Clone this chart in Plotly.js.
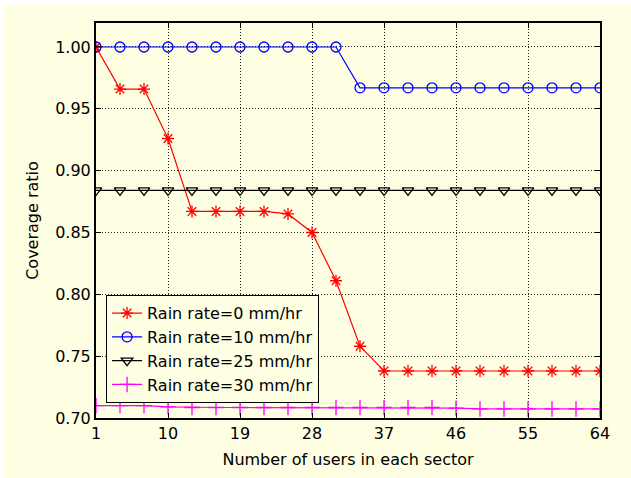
<!DOCTYPE html>
<html><head><meta charset="utf-8">
<script src="https://cdn.plot.ly/plotly-3.0.1.min.js"></script>
<style>html,body{margin:0;padding:0;background:#ffffff;}#chart{position:absolute;left:4px;top:6px;width:627px;height:472px;}</style>
</head><body><div id="chart"></div>
<script>
const users = [1,4,7,10,13,16,19,22,25,28,31,34,37,40,43,46,49,52,55,58,61,64];
const rain0  = [1.000,0.966,0.966,0.926,0.867,0.867,0.867,0.867,0.865,0.850,0.811,0.758,0.738,0.738,0.738,0.738,0.738,0.738,0.738,0.738,0.738,0.738];
const rain10 = [1.000,1.000,1.000,1.000,1.000,1.000,1.000,1.000,1.000,1.000,1.000,0.967,0.967,0.967,0.967,0.967,0.967,0.967,0.967,0.967,0.967,0.967];
const rain25 = [0.884,0.884,0.884,0.884,0.884,0.884,0.884,0.884,0.884,0.884,0.884,0.884,0.884,0.884,0.884,0.884,0.884,0.884,0.884,0.884,0.884,0.884];
const rain30 = [0.710,0.710,0.710,0.709,0.7085,0.7085,0.7085,0.7085,0.7085,0.7085,0.7085,0.7085,0.7085,0.7085,0.7085,0.708,0.7073,0.7073,0.7073,0.7073,0.7073,0.7073];
const names = ["Rain rate=0 mm/hr","Rain rate=10 mm/hr","Rain rate=25 mm/hr","Rain rate=30 mm/hr"];
const xTicks = [1,10,19,28,37,46,55,64];
const yTicks = [0.70,0.75,0.80,0.85,0.90,0.95,1.00];

const bg = "#fefee3";
const fs = 16;
const fam = "DejaVu Sans, Liberation Sans, Arial, sans-serif";
const font = {family:fam, size:fs, color:"#000"};
function tr(y, name, color, sym, size){
  return {x:users, y:y, name:name, type:"scatter", mode:"lines+markers",
    line:{color:color, width:1.2},
    marker:{symbol:sym, size:size, color:color, line:{color:color, width:1.3}}};
}
const data = [
  tr(rain0, names[0], "#ff0000", "asterisk-open", 10),
  tr(rain10, names[1], "#0000ff", "circle-open", 10),
  tr(rain25, names[2], "#000000", "triangle-down-open", 10),
  tr(rain30, names[3], "#ff00ff", "cross-thin-open", 11)
];
const grid = {showgrid:true, gridcolor:"#222", griddash:"1px,2px", gridwidth:1};
const layout = {
  width:627, height:472,
  margin:{l:92, r:31, t:17, b:60},
  paper_bgcolor:bg, plot_bgcolor:bg,
  font:font,
  showlegend:true,
  legend:{x:0.02, y:0.311, xanchor:"left", yanchor:"top", bgcolor:bg, bordercolor:"#000", borderwidth:1, font:{family:fam,size:fs,color:"#000"}, tracegroupgap:0},
  xaxis:Object.assign({range:[1,64], tickvals:xTicks, ticktext:xTicks.map(String), ticks:"inside", ticklen:5, tickcolor:"#000",
    showline:true, linecolor:"#000", linewidth:2, mirror:"ticks", zeroline:false,
    title:{text:"Number of users in each sector", font:{family:fam,size:fs}, standoff:12}, tickfont:{family:fam,size:fs}}, grid),
  yaxis:Object.assign({range:[0.70,1.0194], tickvals:yTicks, ticktext:yTicks.map(v=>v.toFixed(2)), ticks:"inside", ticklen:5, tickcolor:"#000",
    showline:true, linecolor:"#000", linewidth:2, mirror:"ticks", zeroline:false,
    title:{text:"Coverage ratio", font:{family:fam,size:fs}, standoff:13}, tickfont:{family:fam,size:fs}}, grid)
};
Plotly.newPlot("chart", data, layout, {staticPlot:true, displayModeBar:false});
</script></body></html>
